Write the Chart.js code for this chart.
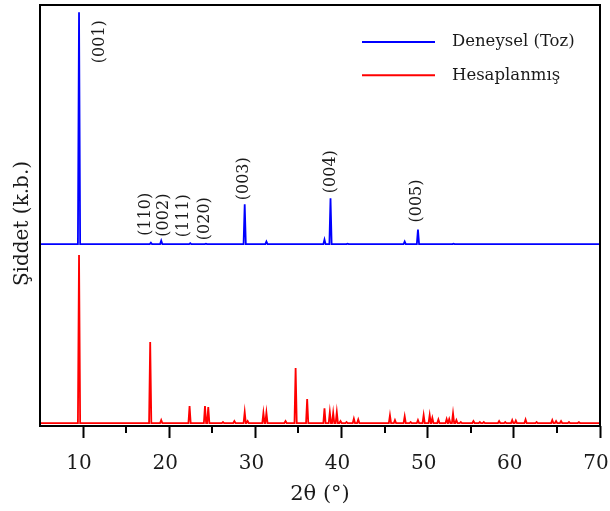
<!DOCTYPE html>
<html><head><meta charset="utf-8">
<script src="https://cdn.jsdelivr.net/npm/chart.js@4/dist/chart.umd.min.js"></script>
<style>html,body{margin:0;padding:0;background:#fff}#wrap{width:610px;height:511px}</style>
</head><body><div id="wrap"><canvas id="c" width="610" height="511"></canvas></div>
<script>
// ---- data ----
const seriesNames = ['Deneysel (Toz)', 'Hesaplanmış'];
// experimental powder pattern: peak 2θ positions (°) and relative intensities (%)
const expPos = [9.53, 17.87, 19.07, 22.44, 24.26, 28.76, 31.28, 38.02, 38.72, 40.7, 47.33, 48.87, 53.0];
const expInt = [100, 0.6, 1.5, 0.4, 0.2, 17.2, 1.1, 2.0, 19.8, 0.2, 1.1, 6.3, 0.2];
// calculated pattern: peak 2θ positions (°) and relative intensities (%)
const calcPos = [9.53, 17.79, 19.07, 22.36, 24.15, 24.53, 26.24, 27.56, 28.76, 29.1, 30.93, 31.28, 33.5, 34.67,
  36.01, 38.02, 38.64, 39.03, 39.45, 39.88, 40.58, 41.43, 41.94, 45.62, 46.2, 47.33, 48.02, 48.87, 49.53, 50.23,
  50.54, 51.24, 52.2, 52.5, 52.94, 53.33, 53.84, 55.31, 56.05, 56.51, 58.29, 59.0, 59.81, 60.23, 61.36, 62.64,
  64.46, 64.9, 65.48, 66.4, 67.55];
const calcInt = [100, 48.2, 1.8, 10.1, 10.1, 9.5, 0.6, 1.2, 6.5, 1.2, 6.0, 6.2, 1.2, 32.7,
  14.3, 8.7, 6.5, 6.0, 6.5, 1.2, 0.6, 2.6, 2.1, 4.6, 1.8, 4.0, 0.6, 1.8, 4.8, 4.8,
  3.0, 2.1, 2.4, 2.4, 5.8, 1.8, 0.6, 1.2, 0.6, 0.6, 1.2, 0.6, 1.8, 1.5, 2.1, 0.6,
  1.8, 1.2, 1.2, 0.6, 0.5];
// Miller indices annotated on the experimental pattern and the peak (2θ) each one marks
const hklLabels = ['(001)', '(110)', '(002)', '(111)', '(020)', '(003)', '(004)', '(005)'];
const hklPeaks = [9.53, 17.87, 19.07, 22.44, 24.26, 28.76, 38.72, 48.87];
// axis ticks
const xMajorTicks = [10, 20, 30, 40, 50, 60, 70];
const xMinorTicks = [15, 25, 35, 45, 55, 65];
const xAxisTitle = '2θ (°)';
const yAxisTitle = 'Şiddet (k.b.)';

// ---- presentation ----
const FONT = 'DejaVu Serif';
const TXT = '#1a1a1a';
const expOffset = 43.2, expScale = 0.551;   // stacked display
const calcOffset = 0.7, calcScale = 0.399;
const halfWidth = 0.13;

function profile(pos, inten, base, scale) {
  const pts = [{x: 5, y: base}];
  pos.forEach((p, i) => {
    pts.push({x: p - halfWidth, y: base}, {x: p, y: base + inten[i] * scale}, {x: p + halfWidth, y: base});
  });
  pts.push({x: 70, y: base});
  return pts;
}

// label placement relative to each annotated peak (pixels)
const hklPlace = [
  {dx: 20.5, dy: 51}, {dx: -5.5, dy: -7}, {dx: 2.5, dy: -4}, {dx: -6, dy: -6},
  {dx: -1.5, dy: -3.5}, {dx: -1.3, dy: -4}, {dx: 0, dy: -5}, {dx: -0.8, dy: -7}
];

const decor = {
  id: 'decor',
  afterDatasetsDraw(chart) {
    const {ctx, chartArea: a, scales: {x, y}} = chart;
    ctx.save();
    // frame
    ctx.strokeStyle = '#000'; ctx.lineWidth = 2;
    ctx.strokeRect(a.left, a.top, a.right - a.left, a.bottom - a.top);
    // minor ticks
    ctx.beginPath();
    xMinorTicks.forEach(v => { const px = Math.round(x.getPixelForValue(v)); ctx.moveTo(px, a.bottom); ctx.lineTo(px, a.bottom + 7); });
    ctx.stroke();
    // hkl labels
    ctx.fillStyle = TXT;
    ctx.font = '16px "' + FONT + '"';
    ctx.textAlign = 'left'; ctx.textBaseline = 'middle';
    hklLabels.forEach((t, i) => {
      const k = expPos.indexOf(hklPeaks[i]);
      const px = x.getPixelForValue(hklPeaks[i]) + hklPlace[i].dx;
      const py = y.getPixelForValue(expOffset + expInt[k] * expScale) + hklPlace[i].dy;
      ctx.save(); ctx.translate(px, py); ctx.rotate(-Math.PI / 2); ctx.fillText(t, 0, 0); ctx.restore();
    });
    // legend
    const ds = chart.data.datasets;
    ctx.font = '16.5px "' + FONT + '"';
    ds.forEach((d, i) => {
      const ly = 42 + i * 33.3;
      ctx.strokeStyle = d.borderColor; ctx.lineWidth = 2;
      ctx.beginPath(); ctx.moveTo(362, ly); ctx.lineTo(435, ly); ctx.stroke();
      ctx.fillStyle = TXT; ctx.fillText(d.label, 452, ly);
    });
    // y title
    ctx.font = '20px "' + FONT + '"';
    ctx.textAlign = 'center';
    ctx.save(); ctx.translate(23, (a.top + a.bottom) / 2 + 8); ctx.rotate(-Math.PI / 2); ctx.fillText(yAxisTitle, 0, 0); ctx.restore();
    ctx.restore();
  }
};

new Chart(document.getElementById('c'), {
  type: 'line',
  data: {
    datasets: [
      {label: seriesNames[0], data: profile(expPos, expInt, expOffset, expScale), borderColor: '#0000ff', borderWidth: 1.8},
      {label: seriesNames[1], data: profile(calcPos, calcInt, calcOffset, calcScale), borderColor: '#ff0000', borderWidth: 1.8}
    ]
  },
  options: {
    responsive: false, animation: false, devicePixelRatio: 1,
    layout: {padding: {top: 5, right: 10, left: 0, bottom: 0}},
    plugins: {legend: {display: false}, tooltip: {enabled: false}},
    elements: {point: {radius: 0}, line: {tension: 0}},
    scales: {
      x: {
        type: 'linear', min: 5, max: 70, position: 'bottom',
        afterFit(s) { s.height = 85; s.paddingLeft = 0; s.paddingRight = 0; },
        afterBuildTicks(s) { s.ticks = xMajorTicks.map(v => ({value: v})); },
        grid: {drawOnChartArea: false, drawTicks: true, tickLength: 12, tickWidth: 2, tickColor: '#000'},
        border: {display: false},
        ticks: {font: {family: FONT, size: 20}, color: TXT, padding: 14, labelOffset: -4, maxRotation: 0, autoSkip: false},
        title: {display: true, text: xAxisTitle, font: {family: FONT, size: 21}, color: TXT, padding: {top: 0, bottom: 4}}
      },
      y: {
        min: 0, max: 100,
        afterFit(s) { s.width = 40; },
        grid: {display: false}, border: {display: false}, ticks: {display: false}
      }
    }
  },
  plugins: [decor]
});
</script></body></html>
